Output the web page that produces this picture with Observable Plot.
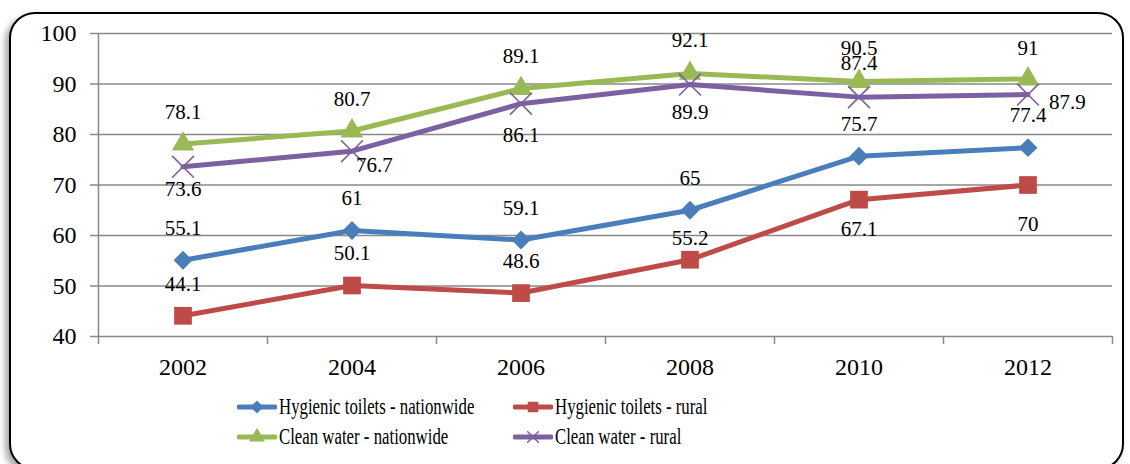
<!DOCTYPE html>
<html><head><meta charset="utf-8">
<script src="https://cdn.jsdelivr.net/npm/d3@7"></script>
<script src="https://cdn.jsdelivr.net/npm/@observablehq/plot@0.6"></script>
<style>
body{margin:0;width:1130px;height:464px;overflow:hidden;background:#fff;font-family:"Liberation Serif","Times New Roman",serif;position:relative;}
#frame{position:absolute;left:9px;top:12px;width:1111px;height:454px;border:2px solid #000;border-radius:26px;box-shadow:-4px 4px 6px rgba(0,0,0,0.35);background:#fff;}
#chart{position:absolute;left:0;top:0;}
#legend{position:absolute;left:0;top:392px;width:1130px;height:60px;}
.item{position:absolute;height:30px;display:flex;align-items:center;white-space:nowrap;}
.item svg{flex:none;}
.item span{display:inline-block;font-family:"Liberation Serif","Times New Roman",serif;font-size:23px;color:#000;transform:scaleX(0.73);transform-origin:left center;margin-left:2px;}
</style>
</head><body>
<div id="frame"></div>
<div id="chart"></div>
<div id="legend"></div>
<script>
// ---- data ----
const years = [2002, 2004, 2006, 2008, 2010, 2012];
const seriesNames = ["Hygienic toilets - nationwide", "Hygienic toilets - rural", "Clean water - nationwide", "Clean water - rural"];
const toiletsNationwide = [55.1, 61, 59.1, 65, 75.7, 77.4];
const toiletsRural = [44.1, 50.1, 48.6, 55.2, 67.1, 70];
const waterNationwide = [78.1, 80.7, 89.1, 92.1, 90.5, 91];
const waterRural = [73.6, 76.7, 86.1, 89.9, 87.4, 87.9];
const yTicks = [40, 50, 60, 70, 80, 90, 100];

// ---- styles (kept separate from data) ----
const seriesStyle = [
  {color: "#4A7EBB", symbol: "diamond2", r: 8.5},
  {color: "#BE4B48", symbol: "square", r: 10},
  {color: "#98B954", symbol: "triangle", r: 8.3},
  {color: "#7D60A0", symbol: "times", r: 10}
];
// label placement per point: [dx, dy, anchor]
const labelPlacement = [
  [[0,-32,"middle"],[0,-32,"middle"],[0,-32,"middle"],[0,-32,"middle"],[0,-32,"middle"],[0,-32,"middle"]],
  [[0,-32,"middle"],[0,-32,"middle"],[0,-32,"middle"],[0,-21,"middle"],[0,30,"middle"],[0,39,"middle"]],
  [[0,-32,"middle"],[0,-32,"middle"],[0,-32,"middle"],[0,-33,"middle"],[0,-33,"middle"],[0,-31,"middle"]],
  [[0,22,"middle"],[4,14,"start"],[0,32,"middle"],[0,28,"middle"],[0,-34,"middle"],[21,8,"start"]]
];

const seriesValues = [toiletsNationwide, toiletsRural, waterNationwide, waterRural];
const series = seriesNames.map((name, s) => years.map((year, i) => ({name, year, value: seriesValues[s][i], s, i})));

const gridColor = "#898989";
const marks = [
  Plot.ruleY(yTicks, {stroke: gridColor, strokeWidth: 1.5}),
  Plot.ruleX([2001], {y1: 40, y2: 100, stroke: gridColor, strokeWidth: 1.5}),
  Plot.axisY({ticks: yTicks, label: null, tickSize: 8, tickPadding: 14, fontSize: 24, stroke: gridColor, strokeWidth: 1.5, fill: "#000", tickFormat: d => d}),
  Plot.axisX({ticks: [2001, 2003, 2005, 2007, 2009, 2011, 2013], label: null, tickSize: 8, stroke: gridColor, strokeWidth: 1.5, tickFormat: () => ""}),
  Plot.axisX({ticks: years, label: null, tickSize: 0, tickPadding: 21, fontSize: 24, fill: "#000", tickFormat: d => String(d)})
];
series.forEach((data, s) => {
  const st = seriesStyle[s];
  marks.push(Plot.line(data, {x: "year", y: "value", stroke: st.color, strokeWidth: 5, strokeLinejoin: "round", strokeLinecap: "round"}));
  if (st.symbol === "times") {
    marks.push(Plot.dot(data, {x: "year", y: "value", symbol: st.symbol, r: st.r, stroke: st.color, strokeWidth: 1.6}));
  } else {
    marks.push(Plot.dot(data, {x: "year", y: "value", symbol: st.symbol, r: st.r, fill: st.color, stroke: "none"}));
  }
});
series.forEach((data, s) => {
  data.forEach((d, i) => {
    const [dx, dy, anchor] = labelPlacement[s][i];
    marks.push(Plot.text([d], {x: "year", y: "value", text: dd => String(dd.value), dx, dy, textAnchor: anchor, fontSize: 21, fill: "#000"}));
  });
});

const chart = Plot.plot({
  width: 1130,
  height: 390,
  marginLeft: 98,
  marginRight: 18,
  marginTop: 33,
  marginBottom: 54,
  style: {fontFamily: "'Liberation Serif','Times New Roman',serif", background: "transparent", overflow: "visible"},
  x: {type: "linear", domain: [2001, 2013], label: null},
  y: {domain: [40, 100], label: null},
  marks
});
document.getElementById("chart").appendChild(chart);

// ---- legend ----
const legend = document.getElementById("legend");
const legendPos = [[237, 0], [513, 0], [237, 30], [513, 30]];
const symbolMap = {diamond2: d3.symbolDiamond2, square: d3.symbolSquare, triangle: d3.symbolTriangle, times: d3.symbolTimes};
seriesNames.forEach((name, s) => {
  const st = seriesStyle[s];
  const item = document.createElement("div");
  item.className = "item";
  item.style.left = legendPos[s][0] + "px";
  item.style.top = legendPos[s][1] + "px";
  const svg = d3.create("svg").attr("width", 40).attr("height", 30);
  svg.append("line").attr("x1", 2).attr("x2", 38).attr("y1", 15).attr("y2", 15)
    .attr("stroke", st.color).attr("stroke-width", 5).attr("stroke-linecap", "round");
  const path = svg.append("path").attr("transform", "translate(20,15)")
    .attr("d", d3.symbol(symbolMap[st.symbol], st.symbol === "times" ? 90 : 110)());
  if (st.symbol === "times") path.attr("fill", "none").attr("stroke", st.color).attr("stroke-width", 1.5);
  else path.attr("fill", st.color);
  item.appendChild(svg.node());
  const span = document.createElement("span");
  span.textContent = name;
  item.appendChild(span);
  legend.appendChild(item);
});
</script>
</body></html>
